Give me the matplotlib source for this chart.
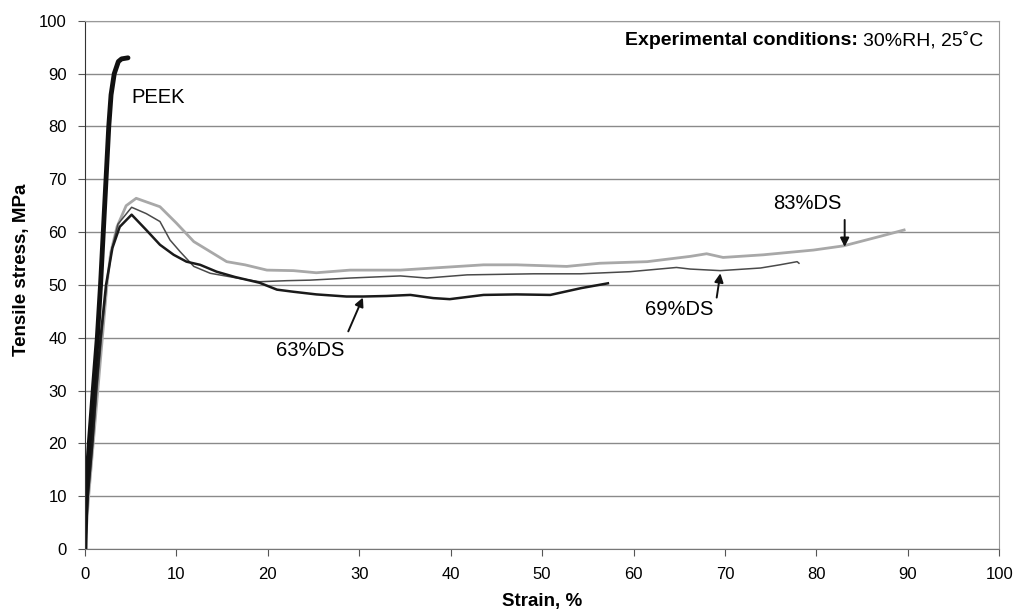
import numpy as np
import matplotlib
matplotlib.use("Agg")
import matplotlib.pyplot as plt

plt.rcParams['font.family'] = ['Liberation Sans', 'DejaVu Sans']

# PEEK
peek_x = [0, 0.1, 0.47, 0.9, 1.35, 1.7, 2.0, 2.3, 2.6, 2.85, 3.2, 3.65, 4.0, 4.7]
peek_y = [0, 10, 20, 30, 40, 50, 60, 70, 80, 86, 90, 92.3, 92.8, 93.0]

# 63%DS
ds63_x = [0, 0.3, 0.8, 1.2, 1.7, 2.3, 3.0, 3.8, 5.1, 6.7, 8.2, 9.7, 11.1, 12.6, 14.4, 16.4,
          19.1, 21.0, 22.8, 25.3, 28.6, 30.4, 33.0, 35.6, 38.1, 39.9, 43.6, 47.2, 50.9, 54.3, 57.2]
ds63_y = [0, 10, 20, 30, 40, 50, 57, 61, 63.3, 60.4, 57.6, 55.7, 54.4, 53.8, 52.5, 51.5,
          50.4, 49.1, 48.7, 48.2, 47.8, 47.8, 47.9, 48.1, 47.5, 47.3, 48.1, 48.2, 48.1, 49.4, 50.3]

# 69%DS
ds69_x = [0, 0.35, 0.85, 1.3, 1.8, 2.35, 2.9, 3.6, 5.1, 6.7, 8.2, 9.3, 10.4, 11.9, 13.7, 17.3,
          19.1, 22.1, 24.6, 29.0, 34.5, 37.4, 41.8, 49.1, 54.2, 59.6, 64.7, 66.2, 69.5, 73.9,
          76.0, 77.9, 78.1]
ds69_y = [0, 10, 20, 30, 40, 50, 56.5, 61.5, 64.7, 63.5, 62.0, 58.5, 56.3, 53.5, 52.2, 51.1,
          50.6, 50.8, 50.9, 51.3, 51.7, 51.3, 51.9, 52.1, 52.1, 52.5, 53.3, 53.0, 52.7, 53.2,
          53.8, 54.4, 54.1]

# 83%DS
ds83_x = [0, 0.4, 0.9, 1.4, 1.9, 2.4, 2.8, 3.5, 4.5, 5.6, 8.2, 10.0, 11.9, 13.7, 15.5, 17.5,
          19.9, 22.8, 25.3, 29.0, 34.5, 38.1, 43.6, 47.2, 52.7, 56.3, 61.5, 66.2, 68.0, 69.8,
          74.2, 79.7, 83.0, 87.0, 89.6]
ds83_y = [0, 10, 20, 30, 40, 50, 56, 61, 65, 66.4, 64.8, 61.7, 58.2, 56.3, 54.4, 53.8,
          52.8, 52.7, 52.3, 52.8, 52.8, 53.2, 53.8, 53.8, 53.5, 54.1, 54.4, 55.4, 55.9, 55.2,
          55.7, 56.6, 57.4, 59.2, 60.4]

fig = plt.figure(figsize=(10.18, 6.14), dpi=100)
ax = fig.add_axes([0.0835, 0.106, 0.898, 0.86])

ax.grid(axis='y', color='#8a8a8a', linewidth=1.0)
ax.set_axisbelow(True)

ax.plot(ds83_x, ds83_y, color='#a8a8a8', linewidth=2.0)
ax.plot(ds69_x, ds69_y, color='#4a4a4a', linewidth=1.1)
ax.plot(ds63_x, ds63_y, color='#1a1a1a', linewidth=1.8)
ax.plot(peek_x, peek_y, color='#111111', linewidth=3.5, solid_capstyle='round')

ax.set_xlim(0, 100)
ax.set_ylim(0, 100)
ax.set_xticks(np.arange(0, 101, 10))
ax.set_yticks(np.arange(0, 101, 10))
ax.tick_params(labelsize=12, direction='out', length=5, color='#555555', pad=8)

for s in ['top', 'right']:
    ax.spines[s].set_color('#999999')
    ax.spines[s].set_linestyle((0, (2, 1)))
ax.spines['left'].set_color('#333333')
ax.spines['bottom'].set_color('#777777')

ax.set_xlabel('Strain, %', fontsize=13.5, fontweight='bold')
ax.xaxis.set_label_coords(0.5, -0.083)
ax.set_ylabel('Tensile stress, MPa', fontsize=13.5, fontweight='bold')
ax.yaxis.set_label_coords(-0.060, 0.528)

# labels and arrows
lab = dict(fontsize=14.5, va='center', ha='left')
ax.text(5.1, 85.5, 'PEEK', **lab)
ax.text(20.9, 37.6, '63%DS', **lab)
ax.text(61.3, 45.3, '69%DS', **lab)
ax.text(75.3, 65.5, '83%DS', **lab)

arr = dict(arrowstyle='-|>', color='#111111', lw=1.4, mutation_scale=13,
           shrinkA=0, shrinkB=0)
ax.annotate('', xy=(30.4, 47.6), xytext=(28.8, 41.2), arrowprops=arr)
ax.annotate('', xy=(69.5, 52.2), xytext=(69.1, 47.6), arrowprops=arr)
ax.annotate('', xy=(83.1, 57.2), xytext=(83.1, 62.3), arrowprops=arr)

t = ax.text(98.3, 96.3, '30%RH, 25˚C', fontsize=14, ha='right', va='center')
fig.canvas.draw()
bb = t.get_window_extent().transformed(ax.transData.inverted())
ax.text(bb.x0, 96.3, 'Experimental conditions: ', fontsize=14, fontweight='bold',
        ha='right', va='center')

fig.savefig('out.png', dpi=100)
